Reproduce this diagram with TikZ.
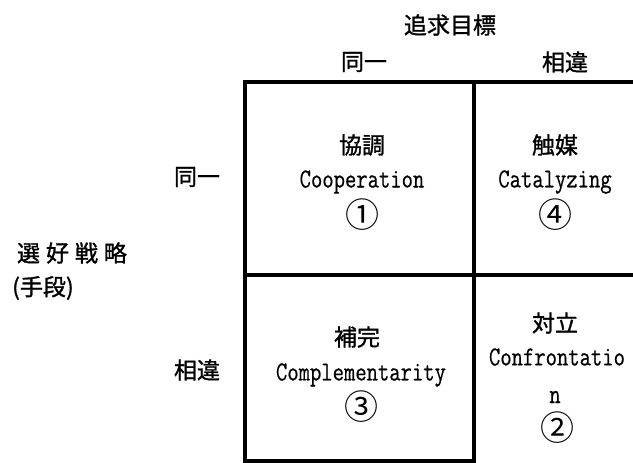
\documentclass[tikz,border=0pt]{standalone}
\usepackage{fontspec}
\newfontfamily\cjk[FakeBold=1.2]{Noto Sans CJK JP}
\newfontfamily\cjknum{Noto Sans CJK JP}
\newfontfamily\monofont[FakeBold=0.6]{Latin Modern Mono}
\newcommand\tallen[1]{\scalebox{1}[1.25]{#1}}
\begin{document}
\begin{tikzpicture}[x=1pt,y=-1pt,
  grid/.style={line width=4.5pt},
  jp/.style={font=\cjk\fontsize{23}{25}\selectfont, inner sep=0pt},
  en/.style={font=\monofont\fontsize{22}{24}\selectfont, inner sep=0pt},
  num/.style={font=\cjknum\fontsize{34}{36}\selectfont, inner sep=0pt}]
\useasboundingbox (0,0) rectangle (633,463);
% grid
\coordinate (a1) at (243,82);
\coordinate (a3) at (640,82);
\coordinate (a2) at (474,82);
\coordinate (b1) at (243,275);
\coordinate (b3) at (640,275);
\coordinate (c1) at (243,461);
\coordinate (c2) at (474,461);
\coordinate (c0) at (245,466);
\coordinate (cm) at (474,466);
\coordinate (t0) at (245,80);
\draw[grid] (a1) -- (a3);
\draw[grid] (b1) -- (b3);
\draw[grid] (c1) -- (c2);
\draw[grid] (t0) -- (c0);
\draw[grid] (a2) -- (cm);
% headers
\node[jp] (goal) at (450,25) {追求目標};
\node[jp] (gsame) at (364,62) {同一};
\node[jp] (gdiff) at (565,62) {相違};
\node[jp] (means) at (72,253) {選\hspace{6pt}好\hspace{6pt}戦\hspace{6pt}略};
\node[jp, anchor=west] (means2) at (12,288) {(手段)};
\node[jp] (msame) at (197,177) {同一};
\node[jp] (mdiff) at (197,370) {相違};
% cells
\node[jp] (q1a) at (362,145) {協調};
\node[en] (q1b) at (362,182) {\tallen{Cooperation}};
\node[num] (q1c) at (362,215) {①};
\node[jp] (q4a) at (555,145) {触媒};
\node[en] (q4b) at (555,182) {\tallen{Catalyzing}};
\node[num] (q4c) at (555,215) {④};
\node[jp] (q3a) at (357,337) {補完};
\node[en] (q3b) at (361,375) {\tallen{Complementarity}};
\node[num] (q3c) at (361,407) {③};
\node[jp] (q2a) at (555,323) {対立};
\node[en] (q2b) at (557,357) {\tallen{Confrontatio}};
\node[en] (q2c) at (555,397) {\tallen{n}};
\node[num] (q2d) at (557,428) {②};
\end{tikzpicture}
\end{document}
